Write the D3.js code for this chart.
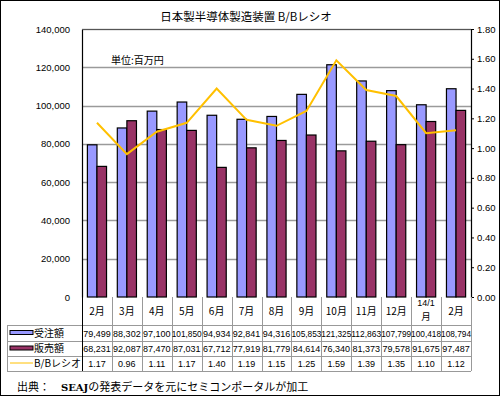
<!DOCTYPE html>
<html>
<head>
<meta charset="utf-8">
<script src="https://cdn.jsdelivr.net/npm/d3@7"></script>
<style>
  body { margin: 0; background: #fff; }
  svg { display: block; }
</style>
</head>
<body>
<div id="chart"></div>
<script>
let categories = ["2月", "3月", "4月", "5月", "6月", "7月", "8月", "9月", "10月", "11月", "12月", "14/1\n月", "2月 "];
let orders = [79499, 88302, 97100, 101850, 94934, 92841, 94316, 105853, 121325, 112863, 107799, 100418, 108794];
let sales = [68231, 92087, 87470, 87031, 67712, 77919, 81779, 84614, 76340, 81373, 79578, 91675, 97487];
let bbRatio = [1.17, 0.96, 1.11, 1.17, 1.40, 1.19, 1.15, 1.25, 1.59, 1.39, 1.35, 1.10, 1.12];
let leftTicks = [0, 20000, 40000, 60000, 80000, 100000, 120000, 140000];
let rightTicks = [0, 0.2, 0.4, 0.6, 0.8, 1.0, 1.2, 1.4, 1.6, 1.8];
let seriesNames = ["受注額", "販売額", "B/Bレシオ"];

let width = 500,
  height = 396;
let plotL = 82, plotR = 471, plotT = 29, plotB = 297;

let jp = "'Noto Sans CJK JP', sans-serif";
let num = "'Liberation Sans', Arial, sans-serif";

let svg = d3.select("#chart").append("svg")
  .attr("width", width)
  .attr("height", height);

svg.append("rect")
  .attr("x", 0.5).attr("y", 0.5)
  .attr("width", width - 1).attr("height", height - 1)
  .attr("fill", "#fff")
  .attr("stroke", "#000");

let x = d3.scaleBand().domain(categories).range([plotL, plotR]);
let y = d3.scaleLinear().domain([0, 140000]).range([plotB, plotT]);
let y2 = d3.scaleLinear().domain([0, 1.8]).range([plotB, plotT]);

let bw = x.bandwidth() * 0.32;
let cx = (d) => x(d) + x.bandwidth() / 2;

// gridlines
svg.append("g")
  .selectAll("line")
  .data(leftTicks.slice(1))
  .enter()
  .append("line")
  .attr("x1", plotL).attr("x2", plotR)
  .attr("y1", d => Math.round(y(d)) + 0.5)
  .attr("y2", d => Math.round(y(d)) + 0.5)
  .attr("stroke", "#9a9a9a")
  .attr("stroke-width", 1.5);

// bars
let bars = svg.append("g").attr("stroke", "#000").attr("stroke-width", 1.2);
bars.selectAll(".o")
  .data(orders)
  .enter()
  .append("rect")
  .attr("x", (d, i) => cx(categories[i]) - bw)
  .attr("y", d => y(d))
  .attr("width", bw)
  .attr("height", d => plotB - y(d))
  .attr("fill", "#9999ff");
bars.selectAll(".s")
  .data(sales)
  .enter()
  .append("rect")
  .attr("x", (d, i) => cx(categories[i]))
  .attr("y", d => y(d))
  .attr("width", bw)
  .attr("height", d => plotB - y(d))
  .attr("fill", "#993366");

// B/B line
let line = d3.line()
  .x((d, i) => cx(categories[i]))
  .y(d => y2(d));
svg.append("path")
  .datum(bbRatio)
  .attr("d", line)
  .attr("fill", "none")
  .attr("stroke", "#ffc000")
  .attr("stroke-width", 2);

// axes
let axisL = svg.append("g")
  .attr("transform", "translate(" + plotL + ",0)")
  .call(d3.axisLeft(y).tickValues(leftTicks).tickSize(0).tickPadding(12).tickFormat(d3.format(",")));
let axisR = svg.append("g")
  .attr("transform", "translate(" + plotR + ",0)")
  .call(d3.axisRight(y2).tickValues(rightTicks).tickSize(3).tickPadding(3).tickFormat(d3.format(".2f")));
[axisL, axisR].forEach(a => {
  a.select(".domain").attr("stroke", "#000").attr("stroke-width", 1.2);
  a.selectAll("text").attr("font-family", num).attr("font-size", "9.5px").attr("fill", "#000");
  a.selectAll(".tick line").attr("stroke", "#000");
});

svg.append("line")
  .attr("x1", plotL).attr("x2", plotR)
  .attr("y1", plotT + 0.5).attr("y2", plotT + 0.5)
  .attr("stroke", "#555");

// title & unit
svg.append("text")
  .attr("x", 246).attr("y", 21)
  .attr("text-anchor", "middle")
  .attr("font-family", jp)
  .attr("font-size", "11.5px")
  .text("日本製半導体製造装置 B/Bレシオ");
svg.append("text")
  .attr("x", 111).attr("y", 64)
  .attr("font-family", jp)
  .attr("font-size", "10px")
  .text("単位:百万円");

// data table
let rows = [plotB, 325, 341, 356, 371];
let grid = svg.append("g").attr("stroke", "#999").attr("stroke-width", 1);
grid.selectAll(".h")
  .data(rows.slice(1))
  .enter()
  .append("line")
  .attr("x1", 7).attr("x2", plotR)
  .attr("y1", d => d + 0.5).attr("y2", d => d + 0.5);
grid.append("line")
  .attr("x1", 7.5).attr("x2", 7.5)
  .attr("y1", rows[1]).attr("y2", rows[4]);
grid.selectAll(".v")
  .data(categories)
  .enter()
  .append("line")
  .attr("x1", d => Math.round(x(d) + x.bandwidth()) + 0.5)
  .attr("x2", d => Math.round(x(d) + x.bandwidth()) + 0.5)
  .attr("y1", rows[0]).attr("y2", rows[4]);
grid.append("line")
  .attr("x1", plotL + 0.5).attr("x2", plotL + 0.5)
  .attr("y1", rows[0]).attr("y2", rows[4])
  .attr("stroke", "#000");

// category labels (two-line label gets a smaller latin first line)
svg.append("g")
  .selectAll("text")
  .data(categories)
  .enter()
  .each(function (d) {
    let parts = d.trim().split("\n");
    let g = d3.select(this);
    if (parts.length == 1) {
      g.append("text")
        .attr("x", cx(d)).attr("y", 315)
        .attr("text-anchor", "middle")
        .attr("font-family", jp)
        .attr("font-size", "10px")
        .text(parts[0]);
    } else {
      g.append("text")
        .attr("x", cx(d)).attr("y", 306)
        .attr("text-anchor", "middle")
        .attr("font-family", num)
        .attr("font-size", "9px")
        .text(parts[0]);
      g.append("text")
        .attr("x", cx(d)).attr("y", 320)
        .attr("text-anchor", "middle")
        .attr("font-family", jp)
        .attr("font-size", "9.5px")
        .text(parts[1]);
    }
  });

let tableData = [
  orders.map(d3.format(",")),
  sales.map(d3.format(",")),
  bbRatio.map(d3.format(".2f"))
];
tableData.forEach((vals, r) => {
  let cy = (rows[r + 1] + rows[r + 2]) / 2 + 3.5;
  svg.append("g")
    .selectAll("text")
    .data(vals)
    .enter()
    .append("text")
    .attr("x", (d, i) => cx(categories[i]))
    .attr("y", cy)
    .attr("text-anchor", "middle")
    .attr("font-family", num)
    .attr("font-size", "9px")
    .text(d => d)
    .each(function () {
      let w = this.getComputedTextLength();
      if (w > 30) d3.select(this).attr("textLength", 30).attr("lengthAdjust", "spacingAndGlyphs");
    });

  // legend keys
  if (r < 2) {
    svg.append("rect")
      .attr("x", 10).attr("y", cy - 6)
      .attr("width", 23).attr("height", 4)
      .attr("fill", r == 0 ? "#9999ff" : "#993366")
      .attr("stroke", "#000").attr("stroke-width", 1);
  } else {
    svg.append("line")
      .attr("x1", 10).attr("x2", 33)
      .attr("y1", cy - 4).attr("y2", cy - 4)
      .attr("stroke", "#ffc000").attr("stroke-width", 1);
  }
  svg.append("text")
    .attr("x", 34).attr("y", cy)
    .attr("font-family", jp)
    .attr("font-size", "10px")
    .text(seriesNames[r]);
});

// source note
let src = svg.append("text")
  .attr("x", 17).attr("y", 391)
  .attr("font-family", jp)
  .attr("font-size", "11px");
src.append("tspan").text("出典：　");
src.append("tspan").attr("font-family", "'DejaVu Serif', serif").attr("font-weight", "bold").attr("font-size", "10px").text("SEAJ");
src.append("tspan").text("の発表データを元にセミコンポータルが加工");
</script>
</body>
</html>
